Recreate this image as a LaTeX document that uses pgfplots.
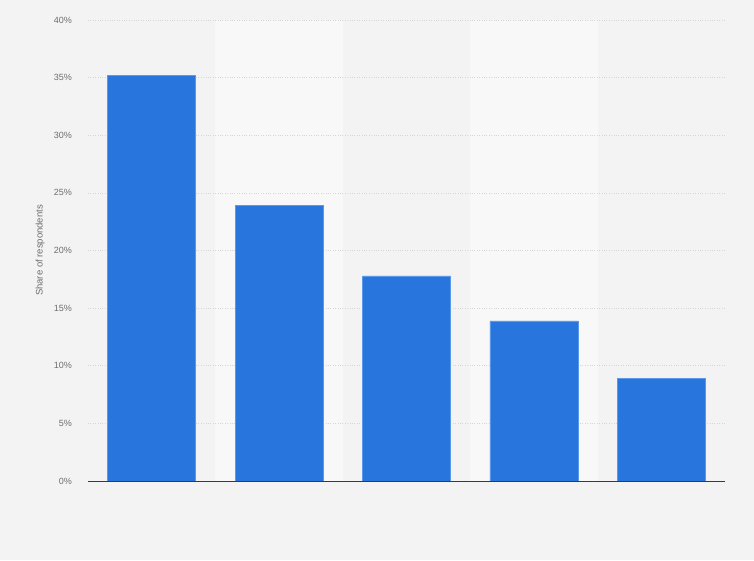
\documentclass[border=0pt]{standalone}
\usepackage{pgfplots}
\pgfplotsset{compat=1.18}
\usepackage{fontspec}
\setmainfont{Liberation Sans}
\definecolor{bg}{HTML}{F3F3F3}
\definecolor{band}{HTML}{F8F8F8}
\definecolor{barblue}{HTML}{2876DD}
\definecolor{baredge}{HTML}{5C98E8}
\definecolor{tickgray}{HTML}{6E6E6E}
\definecolor{gridgray}{HTML}{D6D6D6}
\definecolor{axisdark}{HTML}{3A3A3A}
\begin{document}
\begin{tikzpicture}[x=1pt,y=1pt]
\fill[bg] (0,0) rectangle (754,560);
\fill[band] (215.4,79) rectangle (342.8,540);
\fill[band] (470.2,79) rectangle (597.6,540);
\begin{axis}[
  at={(88pt,79pt)}, anchor=south west,
  scale only axis, width=637pt, height=461pt,
  xmin=-0.5, xmax=4.5, ymin=0, ymax=40,
  ytick={0,5,...,40}, xtick=\empty,
  yticklabel={\pgfmathprintnumber{\tick}\%},
  /pgf/number format/assume math mode=true,
  axis x line*=bottom, axis y line*=left,
  x axis line style={draw=none},
  y axis line style={draw=none},
  major tick length=0pt,
  ymajorgrids, grid style={dotted, gridgray, line width=0.6pt},
  yticklabel style={font=\fontsize{9}{11}\selectfont, text=tickgray, anchor=east, inner sep=0pt, xshift=-16pt},
  ylabel={Share of respondents},
  every axis y label/.style={at={(axis description cs:-0.075,0.5)}, rotate=90, anchor=center, font=\fontsize{9.5}{11}\selectfont, text=tickgray},
]
\addplot[ybar, bar width=88pt, fill=barblue, draw=baredge, line width=0.5pt] coordinates {(0,35.2) (1,23.9) (2,17.8) (3,13.9) (4,8.9)};
\draw[axisdark, line width=0.9pt] (axis cs:-0.5,0) -- (axis cs:4.5,0);
\end{axis}
\end{tikzpicture}
\end{document}
